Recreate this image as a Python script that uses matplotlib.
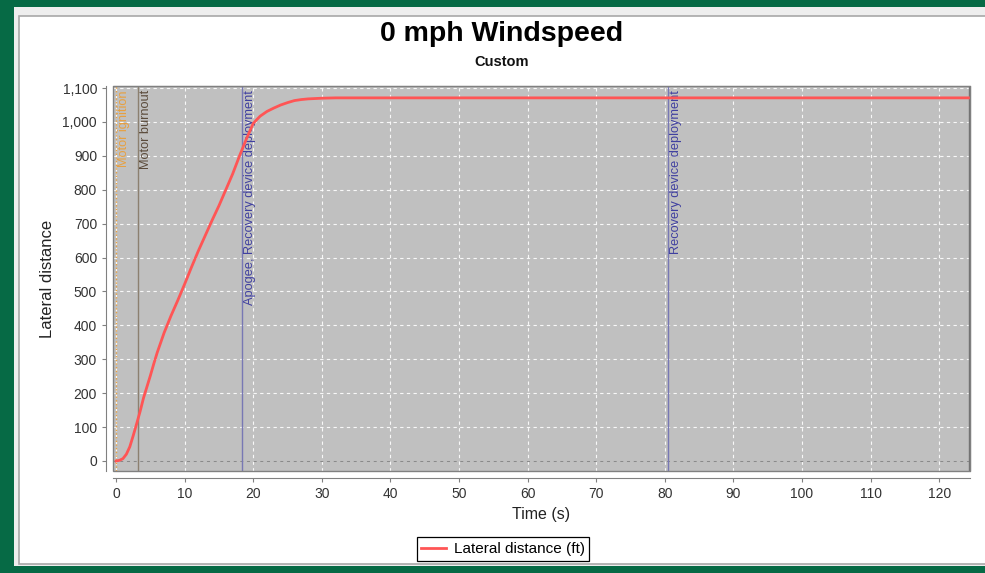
import numpy as np
import matplotlib
matplotlib.use("Agg")
import matplotlib.pyplot as plt
from matplotlib.patches import Rectangle
from matplotlib.ticker import FuncFormatter, MultipleLocator
import matplotlib.transforms as mtransforms

plt.rcParams['font.family'] = ['Liberation Sans', 'DejaVu Sans']

# dados
tempo = [0, 0.5, 1, 1.5, 2, 2.5, 3, 3.5, 4, 5, 5.5, 6, 7, 8, 9, 10, 11, 12, 13, 14,
         15, 16, 17, 18, 19, 20, 21, 22, 23, 24, 25, 26, 27, 28, 30, 32, 125]
distancia = [0, 2, 7, 20, 42, 75, 110, 146, 186, 252, 287, 320, 378, 428, 474, 522,
             572, 620, 665, 710, 753, 800, 847, 900, 950, 996, 1017, 1031, 1041, 1050,
             1057, 1063, 1066, 1068, 1070, 1071, 1071]

eventos_t = [0.0, 3.2, 18.3, 80.5, 124.3]
eventos_nome = ["Motor ignition", "Motor burnout", "Apogee, Recovery device deployment",
                "Recovery device deployment", "Ground hit"]
eventos_cor_linha = ["#e8a040", "#8c8070", "#7878b4", "#7878b4", "#707070"]
eventos_cor_texto = ["#e8a040", "#5a4a3a", "#4040a0", "#4040a0", "#404040"]

W, H = 985, 573
fig = plt.figure(figsize=(W / 100, H / 100), dpi=100)
fig.patch.set_facecolor("white")

def px_rect(x0, y0, x1, y1, **kw):
    # retangulo em pixels (origem no topo)
    r = Rectangle((x0 / W, 1 - y1 / H), (x1 - x0) / W, (y1 - y0) / H,
                  transform=fig.transFigure, zorder=-10, **kw)
    fig.patches.append(r)

px_rect(0, 0, W, H, facecolor="#066a45", edgecolor="none")
px_rect(14, 7, W, 566, facecolor="#eeeeee", edgecolor="none")
px_rect(19, 16, W + 5, 564, facecolor="white", edgecolor="#a8a8a8", linewidth=1.2)

ax = fig.add_axes([113 / W, 1 - 471 / H, (970 - 113) / W, (471 - 86) / H])
ax.set_facecolor("#c0c0c0")

ax.plot(tempo, distancia, color="#ff5555", linewidth=2.0, label="Lateral distance (ft)",
        zorder=5, clip_on=True)

ax.set_xlim(-0.45, 124.5)
ax.set_ylim(-29.5, 1106)
ax.xaxis.set_major_locator(MultipleLocator(10))
ax.yaxis.set_major_locator(MultipleLocator(100))
ax.yaxis.set_major_formatter(FuncFormatter(lambda v, p: "{:,.0f}".format(v)))

ax.grid(True, color="white", linestyle=(0, (3, 3)), linewidth=0.8, alpha=0.9)
ax.axhline(0, color="#8a8a8a", linestyle=(0, (3, 3)), linewidth=0.8, zorder=1)
ax.set_axisbelow(True)

trans = mtransforms.blended_transform_factory(ax.transData, ax.transAxes)
for t, nome, cl, ct in zip(eventos_t, eventos_nome, eventos_cor_linha, eventos_cor_texto):
    ls = ":" if nome == "Motor ignition" else "-"
    ax.axvline(t, color=cl, linewidth=1.0, linestyle=ls, zorder=3)
    ax.annotate(nome, xy=(t, 1.0), xycoords=trans, xytext=(1.5, -3),
                textcoords="offset points", rotation=90, ha="left", va="top",
                fontsize=9.2, color=ct, annotation_clip=False, clip_on=True, zorder=4)

for s in ["top", "right"]:
    ax.spines[s].set_color("#808080")
for s in ["left", "bottom"]:
    ax.spines[s].set_position(("outward", 5))
    ax.spines[s].set_color("#808080")
ax.add_patch(Rectangle((0, 0), 1, 1, transform=ax.transAxes, fill=False,
                       edgecolor="#808080", linewidth=1.0, zorder=6, clip_on=False))

ax.tick_params(axis="both", colors="#808080", length=3, width=0.8, labelsize=10,
               labelcolor="#333333")

ax.set_xlabel("Time (s)", fontsize=11.5, color="#222222", labelpad=4)
ax.set_ylabel("Lateral distance", fontsize=12, color="#222222", labelpad=5)

fig.text(502 / W, 1 - 34 / H, "0 mph Windspeed", ha="center", va="center",
         fontsize=20.5, fontweight="bold", color="black")
fig.text(502 / W, 1 - 62 / H, "Custom", ha="center", va="center",
         fontsize=10.5, fontweight="bold", color="#111111")

leg = fig.legend(loc="center", bbox_to_anchor=(503 / W, 1 - 549 / H), fontsize=11,
                 fancybox=False, edgecolor="black", framealpha=1, handlelength=1.6,
                 borderpad=0.3, handletextpad=0.5)
leg.get_frame().set_linewidth(0.9)

fig.savefig("out.png", dpi=100)
